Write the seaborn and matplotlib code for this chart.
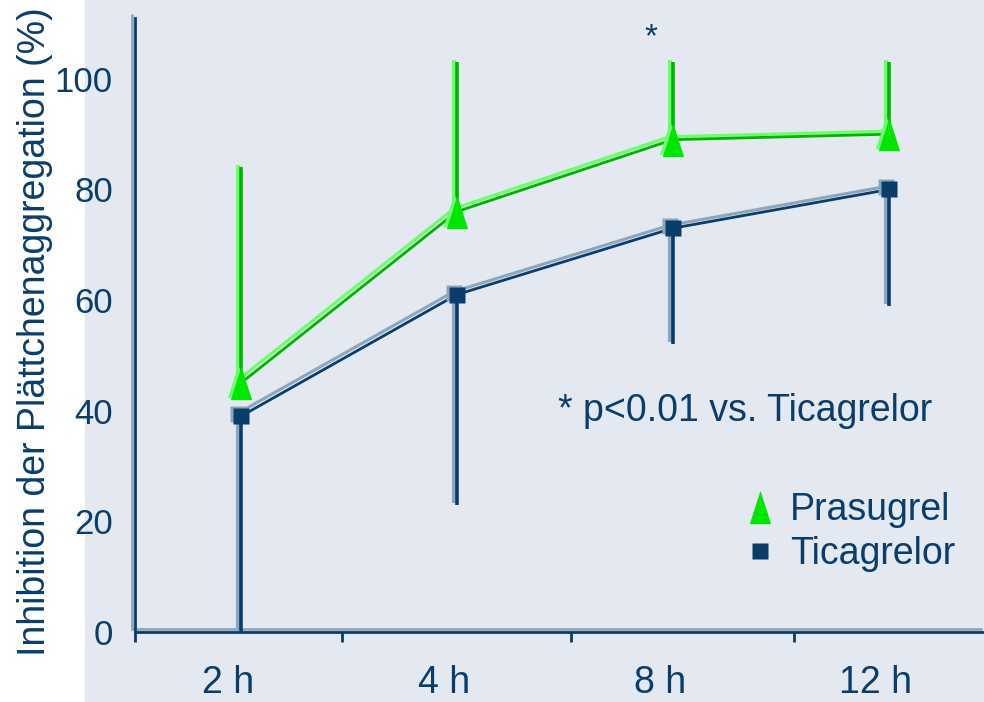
import matplotlib
matplotlib.use("Agg")
import numpy as np
import pandas as pd
import matplotlib.pyplot as plt
import matplotlib.transforms as mtransforms
from matplotlib.path import Path
from matplotlib.lines import Line2D
from matplotlib.patches import Rectangle
import seaborn as sns

# --- data -------------------------------------------------------------
time_labels = ["2 h", "4 h", "8 h", "12 h"]
prasugrel_mean = [45, 76, 89, 90]
prasugrel_upper = [84, 103, 103, 103]
ticagrelor_mean = [39, 61, 73, 80]
ticagrelor_lower = [0, 23, 52, 59]

# --- style ------------------------------------------------------------
NAVY = "#0b3d6b"
NAVY_LIGHT = "#8ea6bc"
GREEN = "#00b400"
GREEN_LIGHT = "#6cff6c"
GREEN_MARK = "#00e600"
BG = "#e4e9f1"

sns.set_theme(style="white")
plt.rcParams["font.family"] = ["Liberation Sans", "DejaVu Sans"]

fig = plt.figure(figsize=(9.84, 7.02), dpi=100)
fig.patch.set_facecolor("white")
fig.patches.append(Rectangle((85 / 984, 0), 1 - 85 / 984, 1,
                             transform=fig.transFigure, facecolor=BG,
                             edgecolor="none", zorder=-10))
ax = fig.add_axes([135 / 984, 70 / 702, 849 / 984, 614 / 702])
ax.set_facecolor("none")
ax.set_zorder(5)

pos = np.arange(len(time_labels))
df = pd.DataFrame({
    "pos": np.concatenate([pos, pos]),
    "value": prasugrel_mean + ticagrelor_mean,
    "drug": ["Prasugrel"] * len(pos) + ["Ticagrelor"] * len(pos),
})

# raised "3D" look: a lighter copy shifted up-left behind each element
shadow = mtransforms.offset_copy(ax.transData, fig=fig, x=-3, y=3, units="dots")
shadow_small = mtransforms.offset_copy(ax.transData, fig=fig, x=-3, y=2, units="dots")

tri = Path([(-0.32, -0.5), (0.32, -0.5), (0.0, 0.5), (-0.32, -0.5)],
           [Path.MOVETO, Path.LINETO, Path.LINETO, Path.CLOSEPOLY])

# error bars (one-sided)
ax.vlines(pos, prasugrel_mean, prasugrel_upper, colors=GREEN_LIGHT, lw=3,
          transform=shadow_small, zorder=2)
ax.vlines(pos, prasugrel_mean, prasugrel_upper, colors=GREEN, lw=2.6, zorder=3)
ax.vlines(pos, ticagrelor_lower, ticagrelor_mean, colors=NAVY_LIGHT, lw=3,
          transform=shadow_small, zorder=2)
ax.vlines(pos, ticagrelor_lower, ticagrelor_mean, colors=NAVY, lw=2.6, zorder=3)

# mean curves
palette_light = {"Prasugrel": GREEN_LIGHT, "Ticagrelor": NAVY_LIGHT}
palette_main = {"Prasugrel": GREEN, "Ticagrelor": NAVY}
sns.lineplot(data=df, x="pos", y="value", hue="drug", palette=palette_light,
             lw=2.2, transform=shadow, legend=False, ax=ax, zorder=4)
sns.lineplot(data=df, x="pos", y="value", hue="drug", palette=palette_main,
             lw=2.0, legend=False, ax=ax, zorder=5)

# markers
ax.plot(pos, prasugrel_mean, ls="none", marker=tri, ms=24, mfc=GREEN_LIGHT,
        mec="none", transform=shadow_small, zorder=6)
ax.plot(pos, prasugrel_mean, ls="none", marker=tri, ms=24, mfc=GREEN_MARK,
        mec="none", zorder=7)
ax.plot(pos, ticagrelor_mean, ls="none", marker="s", ms=11.5, mfc=NAVY_LIGHT,
        mec="none", transform=shadow_small, zorder=6)
ax.plot(pos, ticagrelor_mean, ls="none", marker="s", ms=11.5, mfc=NAVY,
        mec="none", zorder=7)

# axes
ax.set_xlim(-0.49, 3.44)
ax.set_ylim(0, 111)
for s in ["top", "right"]:
    ax.spines[s].set_visible(False)
for s in ["left", "bottom"]:
    ax.spines[s].set_color(NAVY)
    ax.spines[s].set_linewidth(2)
    ax.spines[s].set_zorder(1)
axes_shadow = mtransforms.offset_copy(ax.transAxes, fig=fig, x=-3, y=3,
                                      units="dots")
for xs, ys in [([0, 0], [0, 1]), ([0, 1], [0, 0])]:
    ax.add_line(Line2D(xs, ys, color=NAVY_LIGHT, lw=2, transform=axes_shadow,
                       zorder=0.5, clip_on=False))

ax.set_yticks([0, 20, 40, 60, 80, 100])
ax.tick_params(axis="y", direction="out", length=6, width=2, color=NAVY,
               labelsize=25, labelcolor=NAVY, pad=10)
ax.set_xticks(pos - 0.06)
ax.set_xticklabels(time_labels)
ax.tick_params(axis="x", which="major", length=0, labelsize=27,
               labelcolor=NAVY, pad=24)
ax.set_xticks([-0.49, 0.47, 1.53, 2.56], minor=True)
ax.tick_params(axis="x", which="minor", direction="out", length=7, width=2,
               color=NAVY, bottom=True)
ax.set_xlabel("")
ax.set_ylabel("Inhibition der Plättchenaggregation (%)", fontsize=27,
              color=NAVY)
ax.yaxis.set_label_coords(-0.096, 0.49)

# significance marks
ax.text(1.9, 107.5, "*", fontsize=24, color=NAVY, ha="center", va="center")
ax.text(1.47, 40, "* p<0.01 vs. Ticagrelor", fontsize=27, color=NAVY,
        ha="left", va="center")

handles = [
    Line2D([], [], ls="none", marker=tri, ms=24, mfc=GREEN_MARK, mec="none"),
    Line2D([], [], ls="none", marker="s", ms=11.5, mfc=NAVY, mec="none"),
]
leg = ax.legend(handles, ["Prasugrel", "Ticagrelor"], loc="center left",
                bbox_to_anchor=(0.723, 0.163), frameon=False, fontsize=27,
                handlelength=0.6, handletextpad=0.5, labelspacing=0.22,
                borderaxespad=0, borderpad=0)
for t in leg.get_texts():
    t.set_color(NAVY)

fig.savefig("out.png", dpi=100)
